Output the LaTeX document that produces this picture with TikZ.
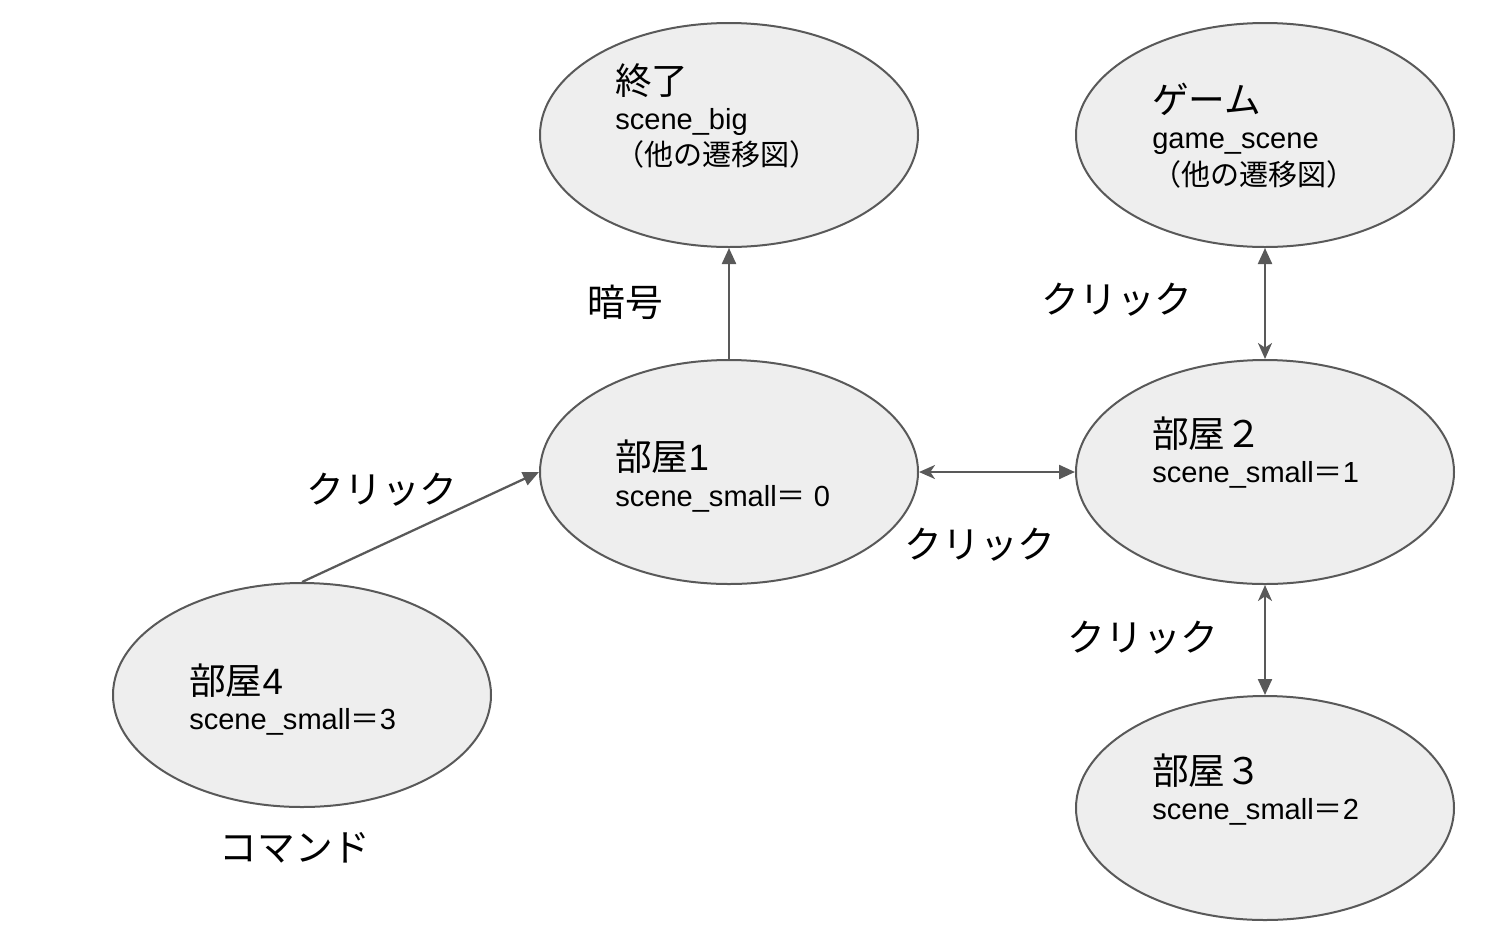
\documentclass[tikz,border=0pt]{standalone}
\usepackage{fontspec}
\setmainfont{Liberation Sans}
\newfontfamily\jp{Noto Sans CJK JP}
\usetikzlibrary{arrows.meta,shapes.geometric}

\definecolor{edgegray}{HTML}{595959}
\definecolor{statefill}{HTML}{EEEEEE}

\tikzset{
  state/.style={ellipse, draw=edgegray, fill=statefill, line width=1.5pt,
    minimum width=283.5pt, minimum height=168pt, inner sep=0pt},
  bigtxt/.style={anchor=base west, inner sep=0pt, font=\fontsize{27.5pt}{32pt}\selectfont},
  smalltxt/.style={anchor=base west, inner sep=0pt, font=\fontsize{21.8pt}{26pt}\selectfont},
  edgelabel/.style={inner sep=0pt, font=\fontsize{28.3pt}{33pt}\selectfont\jp},
  conn/.style={draw=edgegray, line width=1.7pt},
  tipend/.style={-{Triangle[length=12pt,width=10.5pt]}},
  tipboth/.style={{Stealth[length=12pt,width=10.5pt,inset=3.5pt]}-{Triangle[length=12pt,width=10.5pt]}}
}

\begin{document}
\begin{tikzpicture}[x=0.75pt,y=-0.75pt]
  \useasboundingbox (0,0) rectangle (1506,936);

  % states
  \node[state] (fin)  at (729,135) {};
  \node[state] (game) at (1265,135) {};
  \node[state] (r1)   at (729,472) {};
  \node[state] (r2)   at (1265,472) {};
  \node[state] (r3)   at (1265,808) {};
  \node[state] (r4)   at (302,695) {};

  % state texts
  \node[bigtxt]   (finA)  at (615,94)   {\jp 終了};
  \node[smalltxt] (finB)  at (615,129)  {scene\_big};
  \node[smalltxt] (finC)  at (615,165)  {\jp （他の遷移図）};

  \node[bigtxt]   (gameA) at (1152,113) {\jp ゲーム};
  \node[smalltxt] (gameB) at (1152,148) {game\_scene};
  \node[smalltxt] (gameC) at (1152,185) {\jp （他の遷移図）};

  \node[bigtxt]   (r1A) at (615,470) {{\jp 部屋}1};
  \node[smalltxt] (r1B) at (615,506) {scene\_small{\jp ＝} 0};

  \node[bigtxt]   (r2A) at (1152,447) {{\jp 部屋２}};
  \node[smalltxt] (r2B) at (1152,482) {scene\_small{\jp ＝}1};

  \node[bigtxt]   (r3A) at (1152,784) {{\jp 部屋３}};
  \node[smalltxt] (r3B) at (1152,819) {scene\_small{\jp ＝}2};

  \node[bigtxt]   (r4A) at (189,694) {{\jp 部屋}4};
  \node[smalltxt] (r4B) at (189,729) {scene\_small{\jp ＝}3};

  % transitions
  \draw[conn,tipend]  (r1.north) -- (fin.south);
  \draw[conn,tipend]  (r4.north) -- (r1.west);
  \draw[conn,tipboth] (r1.east)  -- (r2.west);
  \draw[conn,tipboth] (r2.north) -- (game.south);
  \draw[conn,tipboth] (r2.south) -- (r3.north);

  % transition labels
  \node[edgelabel] (lcode)  at (625,302)  {暗号};
  \node[edgelabel] (lgame)  at (1117,300) {クリック};
  \node[edgelabel] (lr4)    at (382,490)  {クリック};
  \node[edgelabel] (lr12)   at (980,545)  {クリック};
  \node[edgelabel] (lr23)   at (1143,638) {クリック};
  \node[edgelabel] (lcmd)   at (295,848)  {コマンド};
\end{tikzpicture}
\end{document}
